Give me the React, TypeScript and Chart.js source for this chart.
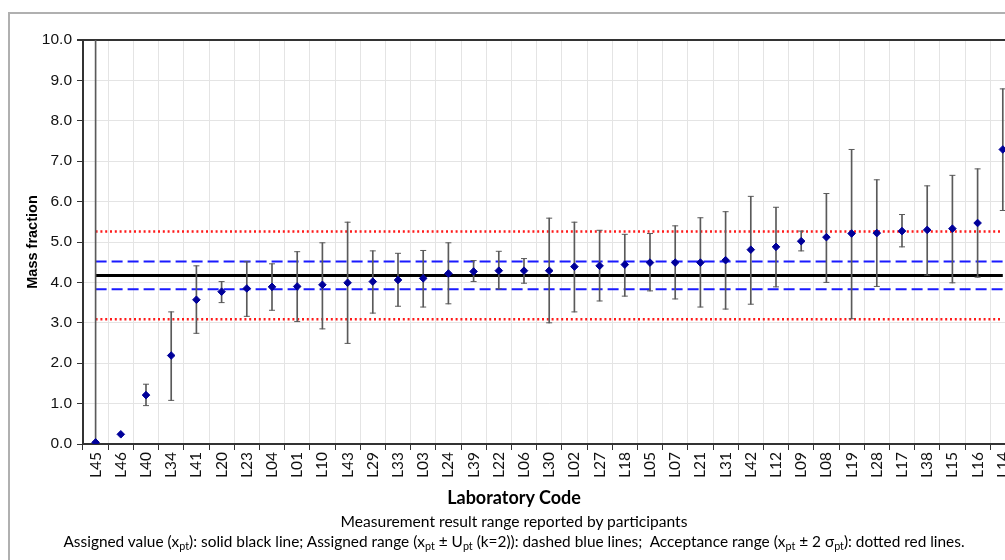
import React, { useEffect, useRef } from "react";
import { Chart, registerables } from "chart.js";

Chart.register(...registerables);

const labCodes = ["L45","L46","L40","L34","L41","L20","L23","L04","L01","L10","L43","L29","L33","L03","L24","L39","L22","L06","L30","L02","L27","L18","L05","L07","L21","L31","L42","L12","L09","L08","L19","L28","L17","L38","L15","L16","L14"];

const results = [0.04,0.24,1.21,2.19,3.57,3.77,3.85,3.89,3.90,3.94,3.99,4.02,4.06,4.10,4.22,4.27,4.29,4.29,4.29,4.39,4.41,4.44,4.49,4.49,4.49,4.55,4.81,4.88,5.02,5.12,5.21,5.22,5.27,5.30,5.33,5.47,7.29];

const rangeHigh = [10.6,null,1.48,3.27,4.41,4.02,4.51,4.46,4.76,4.98,5.49,4.78,4.72,4.79,4.98,4.54,4.77,4.59,5.59,5.49,5.29,5.19,5.21,5.40,5.60,5.75,6.13,5.86,5.27,6.20,7.29,6.54,5.68,6.39,6.65,6.81,8.79];

const rangeLow = [-0.5,null,0.95,1.08,2.74,3.50,3.16,3.31,3.03,2.85,2.49,3.24,3.41,3.39,3.47,4.02,3.84,3.98,3.00,3.27,3.54,3.66,3.79,3.59,3.39,3.34,3.46,3.89,4.78,4.00,3.10,3.90,4.88,4.18,3.99,4.13,5.78];

const assignedValue = 4.17;
const assignedUpper = 4.52;
const assignedLower = 3.83;
const acceptUpper = 5.26;
const acceptLower = 3.09;

const yTickValues = [0,1,2,3,4,5,6,7,8,9,10];

const constLine = (v: number) => labCodes.map(() => v);

export default function App() {
  const canvasRef = useRef<HTMLCanvasElement | null>(null);

  useEffect(() => {
    const canvas = canvasRef.current;
    if (!canvas) return;
    const errColor = "#5a5a5a";
    const chart = new Chart(canvas, {
      type: "bar",
      data: {
        labels: labCodes,
        datasets: [
          {
            type: "line",
            label: "acc-up",
            data: constLine(acceptUpper),
            borderColor: "#ff1a1a",
            borderWidth: 2.5,
            borderDash: [2, 2.8],
            pointRadius: 0,
            fill: false,
            order: 6,
          } as any,
          {
            type: "line",
            label: "acc-low",
            data: constLine(acceptLower),
            borderColor: "#ff1a1a",
            borderWidth: 2.5,
            borderDash: [2, 2.8],
            pointRadius: 0,
            fill: false,
            order: 6,
          } as any,
          {
            type: "line",
            label: "u-up",
            data: constLine(assignedUpper),
            borderColor: "#1a1aff",
            borderWidth: 2,
            borderDash: [11, 5],
            pointRadius: 0,
            fill: false,
            order: 5,
          } as any,
          {
            type: "line",
            label: "u-low",
            data: constLine(assignedLower),
            borderColor: "#1a1aff",
            borderWidth: 2,
            borderDash: [11, 5],
            pointRadius: 0,
            fill: false,
            order: 5,
          } as any,
          {
            type: "line",
            label: "xpt",
            data: constLine(assignedValue),
            borderColor: "#000000",
            borderWidth: 3,
            pointRadius: 0,
            fill: false,
            order: 4,
          } as any,
          {
            type: "bar",
            label: "range",
            data: labCodes.map((_, i) =>
              rangeLow[i] == null || rangeHigh[i] == null ? null : [rangeLow[i], rangeHigh[i]]
            ),
            backgroundColor: errColor,
            borderWidth: 0,
            barThickness: 1,
            clip: 0,
            order: 3,
          } as any,
          {
            type: "line",
            label: "high",
            data: rangeHigh,
            showLine: false,
            pointStyle: "line",
            pointRadius: 3,
            pointBorderColor: errColor,
            pointBorderWidth: 1,
            clip: 0,
            order: 2,
          } as any,
          {
            type: "line",
            label: "low",
            data: rangeLow,
            showLine: false,
            pointStyle: "line",
            pointRadius: 3,
            pointBorderColor: errColor,
            pointBorderWidth: 1,
            clip: 0,
            order: 2,
          } as any,
          {
            type: "line",
            label: "result",
            data: results,
            showLine: false,
            pointStyle: "rectRot",
            pointRadius: 3.8,
            pointBackgroundColor: "#00009a",
            pointBorderColor: "#00009a",
            pointBorderWidth: 1,
            order: 0,
          } as any,
        ],
      },
      options: {
        responsive: false,
        animation: false,
        events: [],
        layout: { padding: { left: 0, top: 40, right: 24.6, bottom: 0 } },
        plugins: {
          legend: { display: false },
          tooltip: { enabled: false },
          title: { display: false },
        },
        scales: {
          x: {
            type: "category",
            offset: true,
            grid: {
              offset: true,
              color: "#e4e4e4",
              lineWidth: 1,
              tickColor: "#333333",
              tickLength: 6,
            },
            border: { color: "#333333", width: 2 },
            ticks: {
              autoSkip: false,
              minRotation: 90,
              maxRotation: 90,
              padding: 2,
              color: "#111111",
              font: { family: "Lato, 'Noto Sans', sans-serif", size: 15.5 },
            },
            afterFit: (scale: any) => {
              scale.height = 116;
            },
          },
          y: {
            type: "linear",
            min: 0,
            max: 10,
            afterBuildTicks: (scale: any) => {
              scale.ticks = yTickValues.map((v) => ({ value: v }));
            },
            grid: {
              color: (ctx: any) => (ctx.tick && ctx.tick.value === 10 ? "#333333" : "#e4e4e4"),
              lineWidth: (ctx: any) => (ctx.tick && ctx.tick.value === 10 ? 2 : 1),
              tickColor: "#333333",
              tickLength: 6,
            },
            border: { color: "#333333", width: 2 },
            ticks: {
              padding: 5,
              color: "#111111",
              font: { family: "'Liberation Sans', Arial, sans-serif", size: 15.5 },
              callback: (v: any) => Number(v).toFixed(1),
            },
            title: {
              display: true,
              text: "Mass fraction",
              color: "#000000",
              font: { family: "'Liberation Sans', Arial, sans-serif", size: 14.5, weight: "bold" },
              padding: { top: 24, bottom: 0 },
            },
            afterFit: (scale: any) => {
              scale.width = 83;
            },
          },
        },
      } as any,
    });
    return () => {
      chart.destroy();
    };
  }, []);

  const footFont = "Lato, 'Noto Sans', sans-serif";
  const subStyle: React.CSSProperties = { fontSize: "0.7em", verticalAlign: "-0.25em", lineHeight: 0 };

  return (
    <div
      style={{
        position: "fixed",
        left: 0,
        top: 0,
        width: 1005,
        height: 560,
        overflow: "hidden",
        background: "#ffffff",
      }}
    >
      <div
        style={{
          position: "absolute",
          left: 8,
          top: 12,
          width: 1100,
          height: 700,
          border: "2px solid #b0b0b0",
          boxSizing: "border-box",
        }}
      />
      <canvas
        ref={canvasRef}
        width={1040}
        height={560}
        style={{ position: "absolute", left: 0, top: 0, width: 1040, height: 560 }}
      />
      <div
        style={{
          position: "absolute",
          left: 0,
          width: 1028,
          top: 487,
          textAlign: "center",
          fontFamily: footFont,
          fontWeight: "bold",
          fontSize: 18,
          lineHeight: "20px",
          color: "#000",
        }}
      >
        Laboratory Code
      </div>
      <div
        style={{
          position: "absolute",
          left: 0,
          width: 1028,
          top: 511,
          textAlign: "center",
          fontFamily: footFont,
          fontSize: 15.6,
          lineHeight: "20px",
          color: "#000",
        }}
      >
        Measurement result range reported by participants
      </div>
      <div
        style={{
          position: "absolute",
          left: 0,
          width: 1028,
          top: 531,
          textAlign: "center",
          fontFamily: footFont,
          fontSize: 15.4,
          lineHeight: "20px",
          color: "#000",
          whiteSpace: "pre",
        }}
      >
        Assigned value (x<sub style={subStyle}>pt</sub>): solid black line; Assigned range (x
        <sub style={subStyle}>pt</sub> ± U<sub style={subStyle}>pt</sub> (k=2)): dashed blue lines;{"  "}
        Acceptance range (x<sub style={subStyle}>pt</sub> ± 2 σ<sub style={subStyle}>pt</sub>): dotted red lines.
      </div>
    </div>
  );
}
